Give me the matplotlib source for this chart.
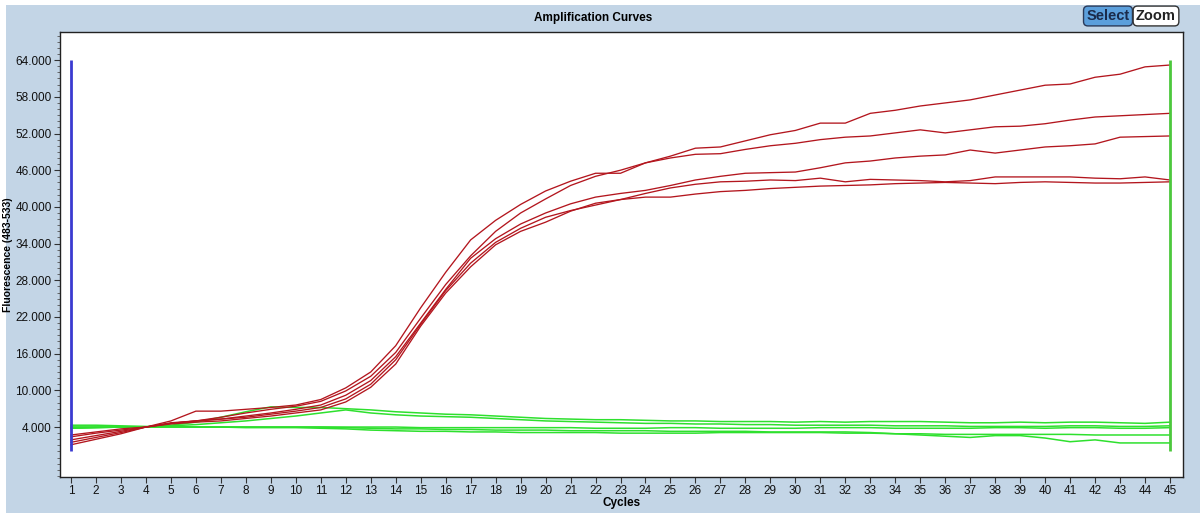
import matplotlib
matplotlib.use('Agg')
import matplotlib.pyplot as plt
import numpy as np
from matplotlib.ticker import MultipleLocator, FixedLocator
from matplotlib.patches import Rectangle

plt.rcParams['font.family'] = ['Liberation Sans Narrow', 'Liberation Sans', 'DejaVu Sans']

# cycles
cycles = list(range(1, 46))

# positive samples (red)
red_a = [2.7, 3.2, 3.7, 4.0, 4.6, 5.0, 5.6, 6.3, 6.9, 7.4, 8.2, 9.9, 12.3, 16.2, 21.8, 27.3, 32.0, 36.0, 39.0,
         41.3, 43.5, 45.0, 46.0, 47.2, 48.3, 49.6, 49.8, 50.8, 51.8, 52.5, 53.7, 53.7, 55.3, 55.8, 56.5, 57.0,
         57.5, 58.3, 59.1, 59.9, 60.1, 61.2, 61.7, 62.9, 63.2]
red_b = [2.4, 3.0, 3.5, 4.0, 5.0, 6.6, 6.6, 6.9, 7.2, 7.6, 8.5, 10.4, 13.0, 17.3, 23.5, 29.3, 34.6, 37.8, 40.4,
         42.6, 44.2, 45.5, 45.5, 47.2, 48.0, 48.6, 48.7, 49.4, 50.0, 50.4, 51.0, 51.4, 51.6, 52.1, 52.6, 52.1,
         52.6, 53.1, 53.2, 53.6, 54.2, 54.7, 54.9, 55.1, 55.3]
red_c = [1.9, 2.6, 3.3, 4.0, 4.7, 5.0, 5.3, 5.8, 6.3, 6.9, 7.6, 9.2, 11.6, 15.5, 21.0, 26.5, 31.6, 34.8, 37.2,
         39.0, 40.5, 41.6, 42.2, 42.7, 43.5, 44.4, 45.0, 45.5, 45.6, 45.7, 46.4, 47.2, 47.5, 48.0, 48.3, 48.5,
         49.3, 48.8, 49.3, 49.8, 50.0, 50.3, 51.4, 51.5, 51.6]
red_d = [1.5, 2.3, 3.1, 4.0, 4.6, 5.0, 5.3, 5.6, 6.1, 6.6, 7.2, 8.6, 11.0, 15.0, 20.8, 26.3, 30.8, 34.2, 36.5,
         38.3, 39.4, 40.3, 41.2, 42.2, 43.1, 43.7, 44.1, 44.2, 44.4, 44.3, 44.7, 44.1, 44.5, 44.4, 44.3, 44.1,
         44.3, 44.9, 44.9, 44.9, 44.9, 44.7, 44.6, 44.9, 44.4]
red_e = [1.1, 2.0, 2.9, 4.0, 4.5, 4.8, 5.0, 5.4, 5.8, 6.3, 6.8, 8.1, 10.5, 14.3, 20.5, 25.9, 30.2, 33.8, 36.0,
         37.5, 39.3, 40.6, 41.2, 41.6, 41.6, 42.1, 42.5, 42.7, 43.0, 43.2, 43.4, 43.5, 43.6, 43.8, 43.9, 44.0,
         43.9, 43.8, 44.0, 44.1, 44.0, 43.9, 43.9, 44.0, 44.1]

# negative samples (green)
green_a = [4.0, 4.0, 4.0, 4.0, 4.3, 4.8, 5.6, 6.5, 7.3, 7.2, 7.2, 7.0, 6.8, 6.5, 6.3, 6.1, 6.0, 5.8, 5.6, 5.4,
           5.3, 5.2, 5.2, 5.1, 5.0, 5.0, 4.9, 4.9, 4.9, 4.8, 4.9, 4.8, 4.9, 4.9, 4.9, 4.8, 4.7, 4.7, 4.8, 4.7,
           4.8, 4.8, 4.7, 4.6, 4.8]
green_b = [3.8, 3.9, 4.0, 4.0, 4.2, 4.4, 4.7, 5.0, 5.4, 5.8, 6.3, 6.8, 6.3, 6.0, 5.8, 5.7, 5.6, 5.4, 5.2, 5.0,
           4.9, 4.8, 4.7, 4.6, 4.6, 4.5, 4.5, 4.4, 4.4, 4.3, 4.3, 4.3, 4.3, 4.2, 4.2, 4.2, 4.1, 4.1, 4.1, 4.1,
           4.2, 4.2, 4.1, 4.1, 4.2]
green_c = [4.3, 4.3, 4.2, 4.1, 4.1, 4.0, 4.0, 4.0, 4.0, 4.0, 4.0, 4.0, 4.0, 4.0, 3.9, 3.9, 3.9, 3.9, 3.9, 3.9,
           3.9, 3.8, 3.8, 3.8, 3.9, 3.9, 3.8, 3.8, 3.8, 3.8, 3.9, 3.9, 3.9, 3.8, 3.8, 3.8, 3.8, 3.9, 3.9, 3.8,
           3.9, 3.9, 3.8, 3.8, 3.9]
green_d = [4.0, 4.0, 4.0, 4.0, 4.0, 4.0, 4.0, 3.9, 3.9, 3.9, 3.8, 3.7, 3.5, 3.4, 3.3, 3.3, 3.2, 3.2, 3.1, 3.1,
           3.1, 3.1, 3.0, 3.0, 3.0, 3.0, 3.1, 3.1, 3.1, 3.1, 3.1, 3.0, 3.0, 2.9, 2.9, 2.8, 2.8, 2.8, 2.8, 2.8,
           2.8, 2.7, 2.7, 2.7, 2.7]
green_e = [3.8, 3.9, 4.0, 4.0, 4.0, 4.0, 4.0, 4.0, 4.0, 4.0, 4.0, 3.9, 3.8, 3.7, 3.7, 3.6, 3.6, 3.5, 3.5, 3.5,
           3.4, 3.4, 3.4, 3.4, 3.3, 3.3, 3.3, 3.3, 3.2, 3.2, 3.2, 3.2, 3.1, 2.9, 2.7, 2.5, 2.3, 2.6, 2.6, 2.2,
           1.6, 1.9, 1.4, 1.4, 1.4]

reds = [red_a, red_b, red_c, red_d, red_e]
greens = [green_a, green_b, green_c, green_d, green_e]

y_ticks = [4, 10, 16, 22, 28, 34, 40, 46, 52, 58, 64]
y_labels = ['%.3f' % v for v in y_ticks]

bg = '#c3d5e6'

fig = plt.figure(figsize=(12, 5.13), dpi=100)
fig.patch.set_facecolor('white')
# window background
fig.patches.append(Rectangle((6 / 1200, 0), 1, 508 / 513, transform=fig.transFigure,
                             facecolor=bg, edgecolor='none', zorder=-10))

ax = fig.add_axes([60 / 1200, 36 / 513, 1123 / 1200, 445 / 513])
ax.set_facecolor('white')

for g in greens:
    ax.plot(cycles, g, color='#2ee02e', lw=1.1)
for r in reds:
    ax.plot(cycles, r, color='#b3161e', lw=0.95)

# start / end markers
ax.vlines(1, 0, 64, color='#3a3ad0', lw=2)
ax.vlines(45, 0, 64, color='#4cc83c', lw=2)

ax.set_xlim(0.56, 45.52)
ax.set_ylim(-4.17, 68.6)
ax.xaxis.set_major_locator(FixedLocator(cycles))
ax.set_xticklabels([str(c) for c in cycles])
ax.set_yticks(y_ticks)
ax.set_yticklabels(y_labels)
ax.yaxis.set_minor_locator(MultipleLocator(1))
ax.tick_params(axis='both', which='major', direction='out', length=4, width=0.8,
               labelsize=8.5, colors='#333333', labelcolor='#111111')
ax.tick_params(axis='y', which='minor', direction='out', length=2, width=0.6, colors='#555555')
ax.tick_params(axis='y', pad=2)
ax.tick_params(axis='x', pad=2)
for s in ax.spines.values():
    s.set_color('#222222')
    s.set_linewidth(1)

ax.set_xlabel('Cycles', fontsize=8.5, fontweight='bold', labelpad=0)
ax.set_ylabel('Fluorescence (483-533)', fontsize=7.5, fontweight='bold')
ax.yaxis.set_label_coords(-47 / 1123, 0.5)
fig.text(593 / 1200, 495 / 513, 'Amplification Curves', ha='center', va='center',
         fontsize=8.5, fontweight='bold')

fig.text(1108 / 1200, 497 / 513, 'Select', ha='center', va='center', fontsize=10.5,
         fontweight='bold', color='#1a2a4a',
         bbox=dict(boxstyle='round,pad=0.2,rounding_size=0.3', facecolor='#5b9fdc', edgecolor='#2a3a5a'))
fig.text(1156 / 1200, 497 / 513, 'Zoom', ha='center', va='center', fontsize=10.5,
         fontweight='bold', color='#222222',
         bbox=dict(boxstyle='round,pad=0.2,rounding_size=0.3', facecolor='white', edgecolor='#333333'))

fig.savefig('out.png', dpi=100, facecolor=fig.get_facecolor())
